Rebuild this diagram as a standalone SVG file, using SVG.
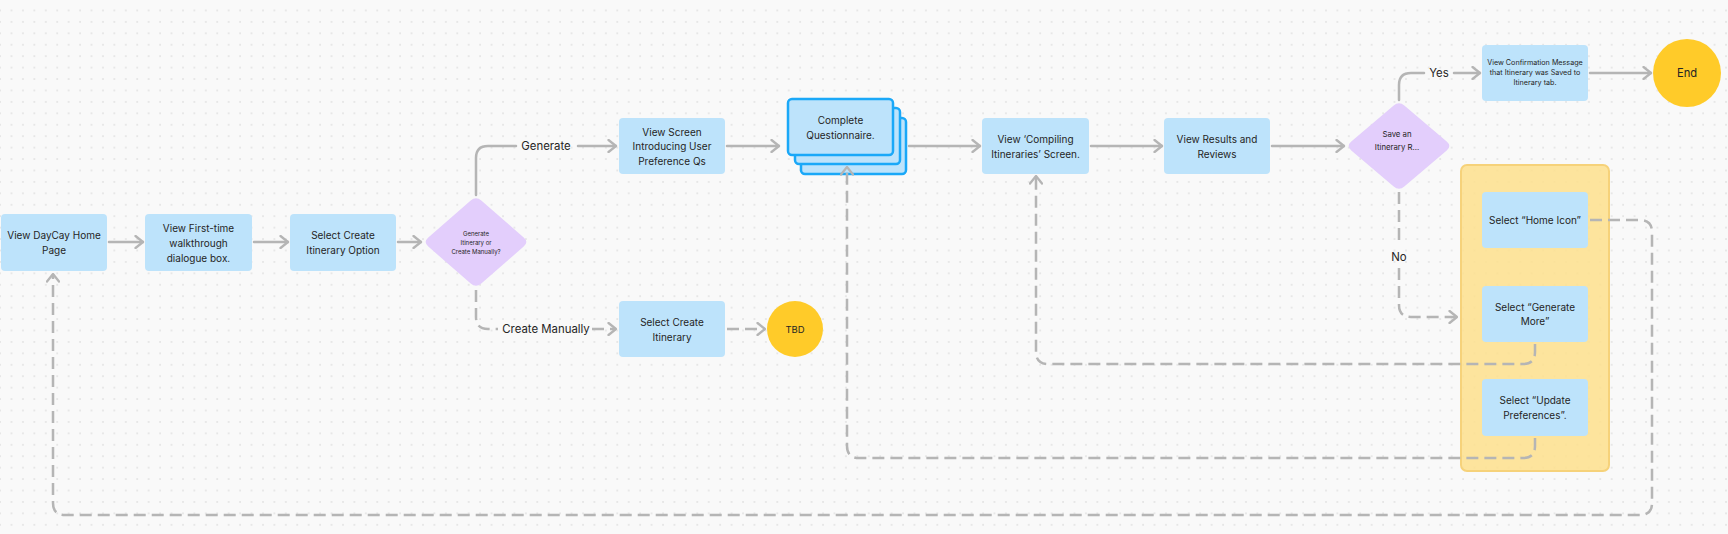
<svg xmlns="http://www.w3.org/2000/svg" width="1728" height="534" viewBox="0 0 1728 534">
<style>
text{font-family:Inter,"Liberation Sans",sans-serif;fill:#252525;text-anchor:middle;dominant-baseline:central}
.box{fill:#bde3fb}
.card{fill:#bde3fb;stroke:#1aa8f8;stroke-width:2.5}
.dia{fill:#e3cefc}
.term{fill:#ffcb29}
.t10{font-size:10px}
.lbl{font-size:11.4px}
.ln{fill:none;stroke:#b5b5b5;stroke-width:2.5;stroke-linecap:round}
.dash{stroke-dasharray:12 6;stroke-linecap:butt}
</style>
<defs>
<pattern id="dots" x="10.5" y="9.5" width="11.43" height="11.43" patternUnits="userSpaceOnUse">
<circle cx="1" cy="1" r="0.75" fill="#cdcdcd"/>
</pattern>
<marker id="ah" viewBox="0 0 10 14" markerWidth="10" markerHeight="14" refX="9" refY="7" orient="auto" markerUnits="userSpaceOnUse">
<path d="M1.5,1 L9,7 L1.5,13" fill="none" stroke="#b5b5b5" stroke-width="2.3" stroke-linecap="round" stroke-linejoin="round" stroke-dasharray="none"/>
</marker>
</defs>
<rect width="1728" height="534" fill="#f9f9f9"/>
<rect width="1728" height="534" fill="url(#dots)"/>

<g id="section-options">
<rect x="1461" y="165" width="148" height="306" rx="6" fill="#fde08f" fill-opacity="0.88" stroke="#f6d27a" stroke-width="2"/>
</g>

<g id="n-home">
<rect class="box" x="1" y="214" width="106" height="57" rx="4"/>
<text class="t10" x="54" y="235.3">View DayCay Home</text>
<text class="t10" x="54" y="250">Page</text>
</g>
<g id="n-walkthrough">
<rect class="box" x="145" y="214" width="107" height="57" rx="4"/>
<text class="t10" x="198.5" y="228.3">View First-time</text>
<text class="t10" x="198.5" y="243">walkthrough</text>
<text class="t10" x="198.5" y="257.7">dialogue box.</text>
</g>
<g id="n-select-create">
<rect class="box" x="290" y="214" width="106" height="57" rx="4"/>
<text class="t10" x="343" y="235.3">Select Create</text>
<text class="t10" x="343" y="250">Itinerary Option</text>
</g>
<g id="d-generate-or-manual">
<path class="dia" d="M481.3,200.6 L523.7,237.4 Q529,242 523.7,246.6 L481.3,283.4 Q476,288 470.7,283.4 L428.3,246.6 Q423,242 428.3,237.4 L470.7,200.6 Q476,196 481.3,200.6 Z"/>
<text x="476" y="233.5" font-size="6">Generate</text>
<text x="476" y="242.5" font-size="6">Itinerary or</text>
<text x="476" y="251.5" font-size="6">Create Manually?</text>
</g>
<g id="n-intro">
<rect class="box" x="619" y="118" width="106" height="56" rx="4"/>
<text class="t10" x="672" y="131.7">View Screen</text>
<text class="t10" x="672" y="146.3">Introducing User</text>
<text class="t10" x="672" y="161">Preference Qs</text>
</g>
<g id="n-questionnaire">
<rect class="card" x="801" y="118" width="105" height="56" rx="4"/>
<rect class="card" x="795" y="108" width="105" height="56" rx="4"/>
<rect class="card" x="788" y="99" width="105" height="56" rx="4"/>
<text class="t10" x="840.5" y="120">Complete</text>
<text class="t10" x="840.5" y="134.5">Questionnaire.</text>
</g>
<g id="n-manual">
<rect class="box" x="619" y="301" width="106" height="56" rx="4"/>
<text class="t10" x="672" y="322">Select Create</text>
<text class="t10" x="672" y="336.7">Itinerary</text>
</g>
<g id="n-tbd">
<circle class="term" cx="795" cy="329" r="28"/>
<text x="795" y="329" font-size="9.5">TBD</text>
</g>
<g id="n-compiling">
<rect class="box" x="982" y="118" width="107" height="56" rx="4"/>
<text class="t10" x="1035.5" y="139">View ‘Compiling</text>
<text class="t10" x="1035.5" y="153.7">Itineraries’ Screen.</text>
</g>
<g id="n-results">
<rect class="box" x="1164" y="118" width="106" height="56" rx="4"/>
<text class="t10" x="1217" y="139">View Results and</text>
<text class="t10" x="1217" y="153.7">Reviews</text>
</g>
<g id="d-save">
<path class="dia" d="M1404.3,105.5 L1446.7,141.5 Q1452,146 1446.7,150.5 L1404.3,186.5 Q1399,191 1393.7,186.5 L1351.3,150.5 Q1346,146 1351.3,141.5 L1393.7,105.5 Q1399,101 1404.3,105.5 Z"/>
<text x="1397" y="134.3" font-size="7.8">Save an</text>
<text x="1397" y="147.3" font-size="7.8">Itinerary R...</text>
</g>
<g id="n-confirm">
<rect class="box" x="1482" y="45" width="106" height="56" rx="4"/>
<text x="1535" y="62.7" font-size="7.2">View Confirmation Message</text>
<text x="1535" y="72.7" font-size="7.2">that Itinerary was Saved to</text>
<text x="1535" y="82.7" font-size="7.2">Itinerary tab.</text>
</g>
<g id="n-end">
<circle class="term" cx="1687" cy="73" r="34"/>
<text x="1687" y="73" font-size="11.2">End</text>
</g>
<g id="n-home-icon">
<rect class="box" x="1482" y="192" width="106" height="56" rx="4"/>
<text class="t10" x="1535" y="220">Select “Home Icon”</text>
</g>
<g id="n-generate-more">
<rect class="box" x="1482" y="286" width="106" height="56" rx="4"/>
<text class="t10" x="1535" y="306.7">Select “Generate</text>
<text class="t10" x="1535" y="321.3">More”</text>
</g>
<g id="n-update-prefs">
<rect class="box" x="1482" y="379" width="106" height="57" rx="4"/>
<text class="t10" x="1535" y="400.3">Select “Update</text>
<text class="t10" x="1535" y="415">Preferences”.</text>
</g>

<g id="connectors">
<path class="ln" d="M109,242 H143" marker-end="url(#ah)"/>
<path class="ln" d="M254,242 H288" marker-end="url(#ah)"/>
<path class="ln" d="M398,242 H421" marker-end="url(#ah)"/>
<path class="ln" d="M476,195 V158 Q476,146 488,146 H516"/>
<path class="ln" d="M578,146 H616" marker-end="url(#ah)"/>
<path class="ln dash" d="M476,290 V317 Q476,329 488,329 H498"/>
<path class="ln dash" d="M592,329 H616" marker-end="url(#ah)"/>
<path class="ln dash" d="M727,329 H765" marker-end="url(#ah)"/>
<path class="ln" d="M727,146 H779" marker-end="url(#ah)"/>
<path class="ln" d="M909,146 H980" marker-end="url(#ah)"/>
<path class="ln" d="M1091,146 H1162" marker-end="url(#ah)"/>
<path class="ln" d="M1272,146 H1344" marker-end="url(#ah)"/>
<path class="ln" d="M1399,100 V85 Q1399,73 1411,73 H1424"/>
<path class="ln" d="M1454,73 H1480" marker-end="url(#ah)"/>
<path class="ln" d="M1590,73 H1651" marker-end="url(#ah)"/>
<path class="ln dash" d="M1399,192 V246"/>
<path class="ln dash" d="M1399,268 V305 Q1399,317 1411,317 H1457" marker-end="url(#ah)"/>
<path class="ln dash" d="M1590,220 H1640 Q1652,220 1652,232 V503 Q1652,515 1640,515 H65 Q53,515 53,503 V274" marker-end="url(#ah)"/>
<path class="ln dash" d="M1535,344 V352 Q1535,364 1523,364 H1048 Q1036,364 1036,352 V176" marker-end="url(#ah)"/>
<path class="ln dash" d="M1535,438 V446 Q1535,458 1523,458 H859 Q847,458 847,446 V167" marker-end="url(#ah)"/>
<text class="lbl" x="546" y="146">Generate</text>
<text class="lbl" x="546" y="329">Create Manually</text>
<text class="lbl" x="1439" y="73">Yes</text>
<text class="lbl" x="1399" y="257">No</text>
</g>
</svg>
